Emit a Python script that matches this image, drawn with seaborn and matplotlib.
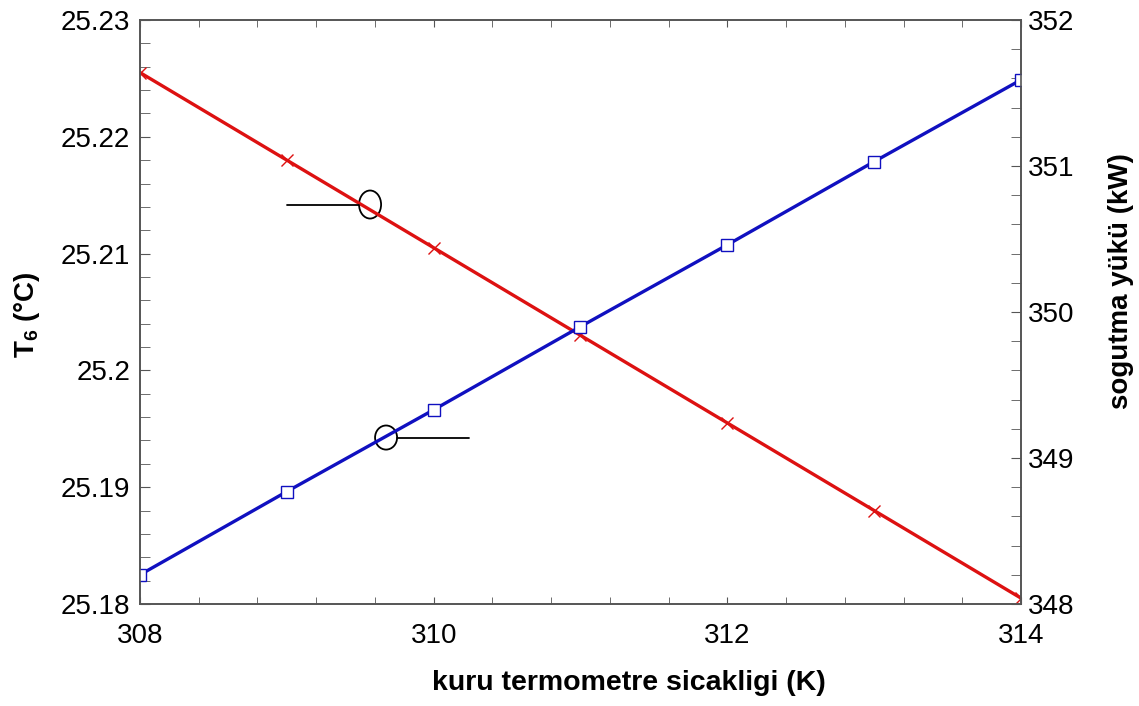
import numpy as np
import pandas as pd
import matplotlib
matplotlib.use("Agg")
import matplotlib.pyplot as plt
import seaborn as sns
from matplotlib.patches import Ellipse
from matplotlib.ticker import MultipleLocator

# === DADOS ===
sicaklik = [308, 309, 310, 311, 312, 313, 314]
t6 = [25.2255, 25.2180, 25.2105, 25.2030, 25.1955, 25.1880, 25.1805]
yuk = [348.20, 348.77, 349.33, 349.90, 350.46, 351.03, 351.59]

df = pd.DataFrame({"x": sicaklik, "t6": t6, "yuk": yuk})

# === ESTILO ===
sns.set_style("ticks")
plt.rcParams["font.family"] = ["Liberation Sans", "DejaVu Sans"]
plt.rcParams["mathtext.fontset"] = "custom"
plt.rcParams["mathtext.rm"] = "Liberation Sans"
plt.rcParams["mathtext.bf"] = "Liberation Sans:bold"
plt.rcParams["text.color"] = "black"
plt.rcParams["axes.labelcolor"] = "black"

fig = plt.figure(figsize=(11.39, 7.06), dpi=100)
ax = fig.add_axes([0.1229, 0.1445, 0.7735, 0.8272])
ax2 = ax.twinx()

red = "#dd1111"
blue = "#1010c0"

sns.lineplot(data=df, x="x", y="t6", ax=ax, color=red, linewidth=2.4,
             marker="x", markersize=8, markeredgewidth=1.0, markeredgecolor=red)
sns.lineplot(data=df, x="x", y="yuk", ax=ax2, color=blue, linewidth=2.4,
             marker="s", markersize=8, markerfacecolor="white",
             markeredgecolor=blue, markeredgewidth=1.0)

ax.set_xlim(308, 314)
ax.set_ylim(25.18, 25.23)
ax2.set_ylim(348, 352)

ax.set_xticks([308, 310, 312, 314])
ax.xaxis.set_minor_locator(MultipleLocator(0.4))
ax.set_yticks([25.18, 25.19, 25.2, 25.21, 25.22, 25.23])
ax.set_yticklabels(["25.18", "25.19", "25.2", "25.21", "25.22", "25.23"])
ax.yaxis.set_minor_locator(MultipleLocator(0.002))
ax2.yaxis.set_major_locator(MultipleLocator(1))
ax2.yaxis.set_minor_locator(MultipleLocator(0.2))

gray = "#555555"
ax.tick_params(axis="x", which="both", direction="in", top=True, bottom=True,
               labelsize=20, color=gray, labelcolor="black", length=5, pad=14)
ax.tick_params(axis="y", which="both", direction="in", labelsize=20,
               color=gray, labelcolor="black", right=False, length=7, pad=7)
ax2.tick_params(axis="y", which="both", direction="in", labelsize=20,
                color=gray, labelcolor="black", left=False, length=7, pad=5)

for a in (ax, ax2):
    for s in a.spines.values():
        s.set_color(gray)
        s.set_linewidth(1.2)

# === ROTULOS ===
ax.set_xlabel("kuru termometre sicakligi (K)", fontsize=20.5, fontweight="bold",
              va="center", color="black")
ax.xaxis.set_label_coords(0.555, -0.135)
ax.set_ylabel("T$_\\mathbf{6}$ (°C)", fontsize=20, fontweight="bold",
              va="center", color="black")
ax.yaxis.set_label_coords(-0.128, 0.495)
ax2.set_ylabel("sogutma yükü (kW)", fontsize=20, fontweight="bold",
               va="center", color="black")
ax2.yaxis.set_label_coords(1.1135, 0.553)

# === ANOTACOES (elipses) ===
ax.add_patch(Ellipse((309.567, 25.2142), 0.15, 0.0024, fill=False,
                     edgecolor="black", linewidth=1.3))
ax.plot([309.0, 309.49], [25.2142, 25.2142], color="black", linewidth=1.3)
ax2.add_patch(Ellipse((309.676, 349.14), 0.15, 0.165, fill=False,
                      edgecolor="black", linewidth=1.3))
ax2.plot([309.75, 310.24], [349.14, 349.14], color="black", linewidth=1.3)

fig.savefig("out.png", dpi=100)
